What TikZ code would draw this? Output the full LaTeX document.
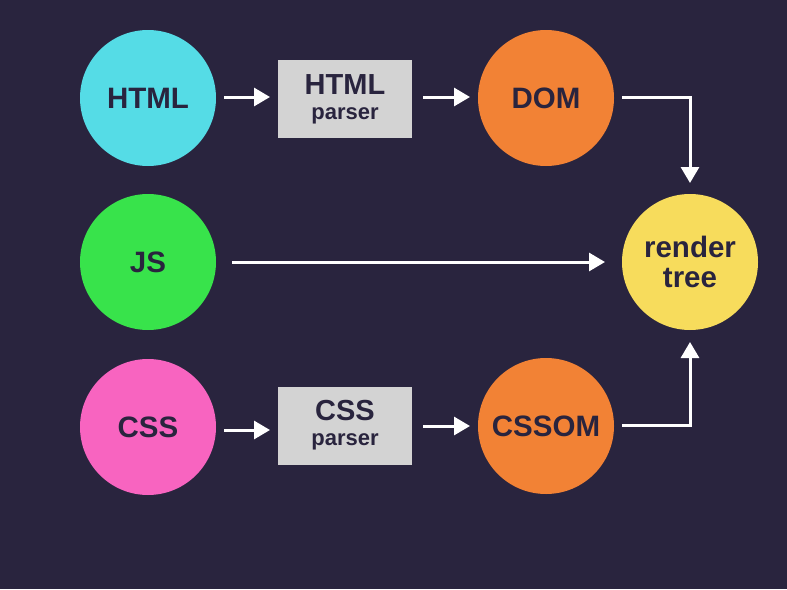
\documentclass[tikz,border=0pt]{standalone}
\usepackage{fontspec}
\setmainfont{Liberation Sans}
\usetikzlibrary{arrows.meta}
\definecolor{bg}{HTML}{29243E}
\definecolor{ink}{HTML}{29243E}
\definecolor{cyanc}{HTML}{55DCE6}
\definecolor{greenc}{HTML}{38E34B}
\definecolor{pinkc}{HTML}{F864C0}
\definecolor{orangec}{HTML}{F28235}
\definecolor{yellowc}{HTML}{F7DC5C}
\definecolor{boxc}{HTML}{D3D3D3}
\tikzset{
  x=1pt,y=-1pt,
  circ/.style={circle,minimum size=136pt,inner sep=0pt,text=ink,font=\fontsize{29.5}{30}\selectfont\bfseries,align=center},
  pbox/.style={rectangle,fill=boxc,minimum width=134pt,minimum height=78pt,inner sep=0pt,text=ink,align=center,font=\fontsize{22}{25}\selectfont\bfseries},
  arr/.style={draw=white,line width=3pt,-{Triangle[length=16pt,width=18pt]}},
}
\begin{document}
\begin{tikzpicture}
\fill[bg] (0,0) rectangle (787,589);
\useasboundingbox (0,0) rectangle (787,589);
\node[circ,fill=cyanc] (html) at (148,98) {HTML};
\node[circ,fill=greenc] (js) at (148,262) {JS};
\node[circ,fill=pinkc] (css) at (148,427) {CSS};
\node[circ,fill=orangec] (dom) at (546,98) {DOM};
\node[circ,fill=orangec] (cssom) at (546,426) {CSSOM};
\node[circ,fill=yellowc] (rt) at (690,262) {render\\tree};
\node[pbox] (hp) at (345,99) {{\fontsize{29}{25}\selectfont HTML}\\parser};
\node[pbox] (cp) at (345,425.5) {{\fontsize{29}{25}\selectfont CSS}\\parser};
\coordinate (a1s) at (224,97);
\coordinate (a1e) at (270,97);
\coordinate (a2s) at (423,97);
\coordinate (a2e) at (470,97);
\coordinate (a3s) at (622,97);
\coordinate (a3c) at (690,97);
\coordinate (a3e) at (690,183);
\coordinate (a4s) at (232,262);
\coordinate (a4e) at (605,262);
\coordinate (a5s) at (224,430);
\coordinate (a5e) at (270,430);
\coordinate (a6s) at (423,426);
\coordinate (a6e) at (470,426);
\coordinate (a7s) at (622,425);
\coordinate (a7c) at (690,425);
\coordinate (a7e) at (690,342);
\draw[arr] (a1s) -- (a1e);
\draw[arr] (a2s) -- (a2e);
\draw[arr] (a3s) -- (a3c) -- (a3e);
\draw[arr] (a4s) -- (a4e);
\draw[arr] (a5s) -- (a5e);
\draw[arr] (a6s) -- (a6e);
\draw[arr] (a7s) -- (a7c) -- (a7e);
\end{tikzpicture}
\end{document}
